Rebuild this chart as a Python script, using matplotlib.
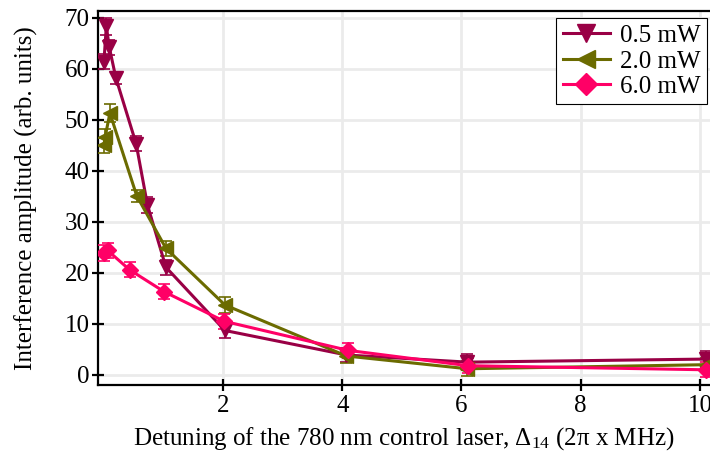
import matplotlib
matplotlib.use("Agg")
import matplotlib.pyplot as plt
from matplotlib.lines import Line2D

# 0.5 mW series
x_05 = [0.0, 0.04, 0.09, 0.2, 0.54, 0.73, 1.04, 2.03, 4.07, 6.1, 10.1]
y_05 = [61.4, 68.3, 64.2, 58.2, 45.3, 33.3, 21.1, 8.7, 3.9, 2.5, 3.1]
e_05 = [1.5, 1.7, 1.5, 1.2, 1.5, 1.5, 1.5, 1.5, 1.3, 1.5, 1.5]

# 2.0 mW series
x_20 = [0.0, 0.02, 0.1, 0.55, 1.04, 2.03, 4.07, 6.1, 10.1]
y_20 = [45.0, 46.6, 51.3, 35.1, 24.8, 13.7, 3.7, 1.2, 2.0]
e_20 = [1.5, 1.5, 1.8, 1.2, 1.5, 1.6, 1.3, 1.5, 1.3]

# 6.0 mW series
x_60 = [0.0, 0.06, 0.43, 1.01, 2.02, 4.1, 6.11, 10.1]
y_60 = [23.9, 24.4, 20.6, 16.3, 10.5, 4.8, 1.8, 1.0]
e_60 = [1.5, 1.5, 1.5, 1.5, 1.5, 1.5, 1.5, 1.5]

xticks = [2, 4, 6, 8, 10]
yticks = [0, 10, 20, 30, 40, 50, 60, 70]

plt.rcParams["font.family"] = ["Liberation Serif", "DejaVu Serif"]
plt.rcParams["mathtext.fontset"] = "custom"
plt.rcParams["mathtext.rm"] = "Liberation Serif"
plt.rcParams["mathtext.it"] = "Liberation Serif:italic"

fig = plt.figure(figsize=(7.1, 4.59), dpi=100)
ax = fig.add_axes([0.138, 0.161, 0.862, 0.815])

series = [
    (x_05, y_05, e_05, "#990045", "v", "0.5 mW"),
    (x_20, y_20, e_20, "#6b6b00", "<", "2.0 mW"),
    (x_60, y_60, e_60, "#ff0066", "D", "6.0 mW"),
]
handles = []
for xs, ys, es, c, m, lab in series:
    ms = 8 if m == "D" else 9.5
    ax.errorbar(xs, ys, yerr=es, color=c, marker=m, markersize=ms, lw=2.2,
                elinewidth=1.2, capsize=4, capthick=1.2, ecolor=c, zorder=3)
    handles.append(Line2D([], [], color=c, marker=m, markersize=ms + 3,
                          lw=2.2, label=lab))

ax.set_xlim(-0.1, 10.17)
ax.set_ylim(-2, 71.3)
ax.set_xticks(xticks)
ax.set_yticks(yticks)
ax.grid(True, color="#ebebeb", lw=2, zorder=0)
ax.set_axisbelow(True)

for side in ["left", "bottom", "top"]:
    ax.spines[side].set_linewidth(1.6)
ax.spines["right"].set_visible(False)
ax.tick_params(direction="inout", length=8, width=1.6, labelsize=18, pad=2)
ax.tick_params(axis="x", pad=3)

ax.set_xlabel(r"Detuning of the 780 nm control laser, $\Delta_{14}$ (2π x MHz)",
              fontsize=18, labelpad=6)
ax.set_ylabel("Interference amplitude (arb. units)", fontsize=18, labelpad=19)

leg = ax.legend(handles=handles, loc="upper right", fontsize=18, frameon=True,
                fancybox=False, edgecolor="black", framealpha=1, borderpad=0.25,
                labelspacing=0.12, handlelength=1.9, handletextpad=0.4,
                borderaxespad=0.0, bbox_to_anchor=(0.995, 0.98))
leg.get_frame().set_linewidth(0.8)

fig.savefig("out.png", dpi=100)
